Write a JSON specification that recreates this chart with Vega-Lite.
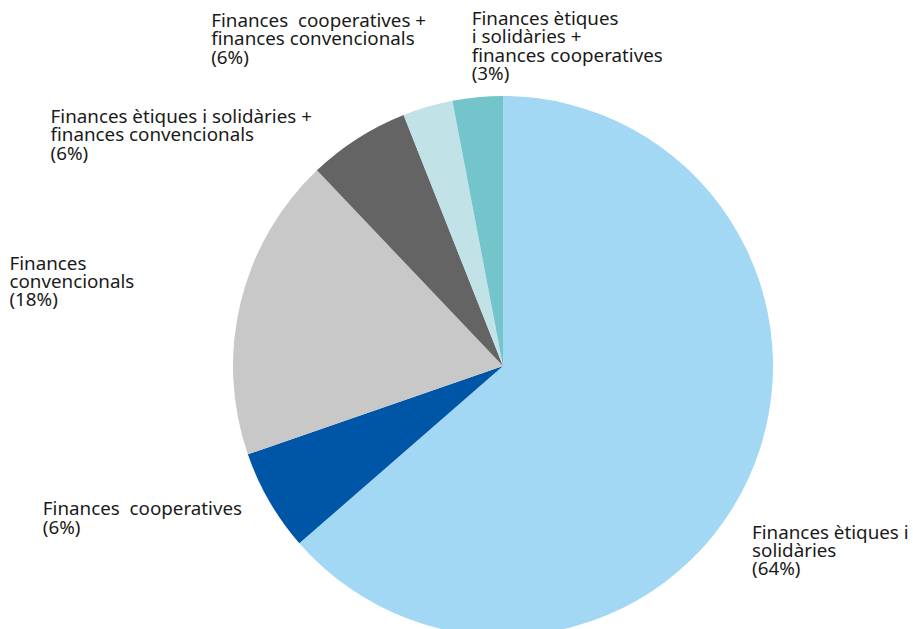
{
  "$schema": "https://vega.github.io/schema/vega-lite/v6.json",
  "width": 820,
  "height": 526,
  "autosize": "none",
  "padding": {"left": 93, "top": 103, "right": 0, "bottom": 0},
  "background": "white",
  "view": {"stroke": null},
  "config": {"text": {"font": "Noto Sans", "fontSize": 18.8, "lineHeight": 18.3, "align": "left", "baseline": "alphabetic", "color": "#1a1a1a", "lineBreak": "\n"}},
  "data": {"values": [
    {"n": 1, "category": "Finances ètiques i solidàries", "value": 63.6, "label": "Finances ètiques i\nsolidàries\n(64%)"},
    {"n": 2, "category": "Finances cooperatives", "value": 6.1, "label": "Finances \u00a0cooperatives\n(6%)"},
    {"n": 3, "category": "Finances convencionals", "value": 18.2, "label": "Finances\nconvencionals\n(18%)"},
    {"n": 4, "category": "Finances ètiques i solidàries + finances convencionals", "value": 6.1, "label": "Finances ètiques i solidàries +\nfinances convencionals\n(6%)"},
    {"n": 5, "category": "Finances cooperatives + finances convencionals", "value": 3.0, "label": "Finances \u00a0cooperatives +\nfinances convencionals\n(6%)"},
    {"n": 6, "category": "Finances ètiques i solidàries + finances cooperatives", "value": 3.0, "label": "Finances ètiques\n\u00a0i solidàries +\nfinances cooperatives\n(3%)"}
  ]},
  "encoding": {
    "theta": {"field": "value", "type": "quantitative", "stack": true},
    "order": {"field": "n", "type": "quantitative"}
  },
  "layer": [
    {
      "mark": {"type": "arc", "outerRadius": 270},
      "encoding": {
        "color": {
          "field": "category", "type": "nominal", "legend": null,
          "scale": {
            "domain": ["Finances ètiques i solidàries", "Finances cooperatives", "Finances convencionals", "Finances ètiques i solidàries + finances convencionals", "Finances cooperatives + finances convencionals", "Finances ètiques i solidàries + finances cooperatives"],
            "range": ["#A3D8F4", "#0056A6", "#C8C8C8", "#646464", "#C1E2E6", "#73C5CB"]
          }
        }
      }
    },
    {"mark": {"type": "text", "radius": 290, "dx": -14.9, "dy": 52.7},
     "encoding": {"text": {"condition": {"test": "datum.n == 1", "field": "label"}, "value": ""}}},
    {"mark": {"type": "text", "radius": 290, "dx": -209.2, "dy": 4},
     "encoding": {"text": {"condition": {"test": "datum.n == 2", "field": "label"}, "value": ""}}},
    {"mark": {"type": "text", "radius": 290, "dx": -211.8, "dy": -27.8},
     "encoding": {"text": {"condition": {"test": "datum.n == 3", "field": "label"}, "value": ""}}},
    {"mark": {"type": "text", "radius": 290, "dx": -296.3, "dy": 1.3},
     "encoding": {"text": {"condition": {"test": "datum.n == 4", "field": "label"}, "value": ""}}},
    {"mark": {"type": "text", "radius": 290, "dx": -210.9, "dy": -60.4},
     "encoding": {"text": {"condition": {"test": "datum.n == 5", "field": "label"}, "value": ""}}},
    {"mark": {"type": "text", "radius": 290, "dx": -4, "dy": -52.3},
     "encoding": {"text": {"condition": {"test": "datum.n == 6", "field": "label"}, "value": ""}}}
  ]
}
